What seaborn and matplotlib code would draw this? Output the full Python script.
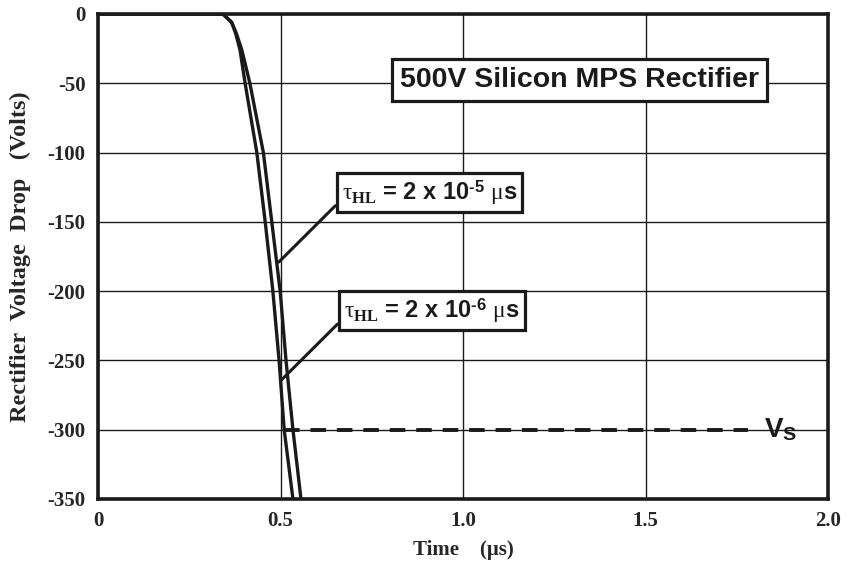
import numpy as np
import pandas as pd
import matplotlib
matplotlib.use("Agg")
import matplotlib.pyplot as plt
import seaborn as sns

# Reverse-recovery voltage transients (time in microseconds, voltage in volts)
t_fast = [0.0, 0.342, 0.366, 0.377, 0.389, 0.403, 0.435, 0.458, 0.479, 0.496, 0.510, 0.534]
v_fast = [0, 0, -6, -14, -26, -50, -100, -150, -200, -250, -300, -350]
t_slow = [0.0, 0.342, 0.366, 0.379, 0.394, 0.416, 0.453, 0.476, 0.499, 0.515, 0.534, 0.556]
v_slow = [0, 0, -6, -14, -26, -50, -100, -150, -200, -250, -300, -350]

# Supply voltage level
vs_t = [0.51, 1.78]
vs_v = [-300, -300]

x_ticks = [0, 0.5, 1.0, 1.5, 2.0]
x_tick_labels = ["0", "0.5", "1.0", "1.5", "2.0"]
y_ticks = [0, -50, -100, -150, -200, -250, -300, -350]
y_tick_labels = ["0", "-50", "-100", "-150", "-200", "-250", "-300", "-350"]

HYPHEN = "\u2010"
label_fast = r"$\tau_{\mathbf{HL}}$ = 2 x 10$^{\mathsf{" + HYPHEN + r"6}}$ $\mu$s"
label_slow = r"$\tau_{\mathbf{HL}}$ = 2 x 10$^{\mathsf{" + HYPHEN + r"5}}$ $\mu$s"
title_text = "500V Silicon MPS Rectifier"

sns.set_style("white")
plt.rcParams["font.family"] = ["Liberation Sans", "DejaVu Sans"]
plt.rcParams["mathtext.fontset"] = "custom"
plt.rcParams["mathtext.rm"] = "Liberation Serif"
plt.rcParams["mathtext.it"] = "Liberation Serif"
plt.rcParams["mathtext.bf"] = "Liberation Serif:bold"
plt.rcParams["mathtext.sf"] = "Liberation Sans:bold"

df = pd.concat([
    pd.DataFrame({"t": t_fast, "v": v_fast, "tau": "fast"}),
    pd.DataFrame({"t": t_slow, "v": v_slow, "tau": "slow"}),
])

fig = plt.figure(figsize=(8.51, 5.75), dpi=100)
ax = fig.add_axes([0.1152, 0.1322, 0.8578, 0.8435])

ax.grid(True, color="#1a1a1a", linewidth=1.0)
ax.set_axisbelow(True)

sns.lineplot(data=df, x="t", y="v", units="tau", estimator=None, sort=False,
             color="#1a1a1a", linewidth=2.4, ax=ax, legend=False)

ax.plot(vs_t, vs_v, color="#1a1a1a", linewidth=2.8, dashes=(4.0, 2.8))

ax.set_xlim(0, 2.0)
ax.set_ylim(-350, 0)
ax.set_xticks(x_ticks)
ax.set_xticklabels(x_tick_labels)
ax.set_yticks(y_ticks)
ax.set_yticklabels(y_tick_labels)
for lab in ax.get_xticklabels() + ax.get_yticklabels():
    lab.set_fontfamily("Liberation Serif")
    lab.set_fontweight("bold")
    lab.set_fontsize(15)
ax.tick_params(axis="both", direction="out", length=3, width=1, color="#1a1a1a")
ax.tick_params(axis="y", pad=6)
ax.tick_params(axis="x", pad=6)

for s in ax.spines.values():
    s.set_visible(True)
    s.set_color("#1a1a1a")
    s.set_linewidth(2.6)

ax.set_xlabel("Time    (\u03bcs)", fontfamily="Liberation Serif", fontweight="bold",
              fontsize=15, labelpad=6)
ax.set_ylabel("Rectifier  Voltage  Drop   (Volts)", fontfamily="Liberation Serif",
              fontweight="bold", fontsize=17.5, labelpad=12)

box = dict(boxstyle="square,pad=0.22", facecolor="white", edgecolor="#1a1a1a", linewidth=2.3)

ax.text(0.659, 0.864, title_text, transform=ax.transAxes, ha="center", va="center",
        fontsize=20.5, fontweight="bold", color="#1a1a1a",
        bbox=dict(boxstyle="square,pad=0.28", facecolor="white", edgecolor="#1a1a1a",
                  linewidth=2.3), zorder=5)

# Pointer targets on each curve
v_slow_pt = -179
t_slow_pt = np.interp(-v_slow_pt, -np.array(v_slow), t_slow) + 0.006
v_fast_pt = -264
t_fast_pt = np.interp(-v_fast_pt, -np.array(v_fast), t_fast) + 0.003

arrow = dict(arrowstyle="-", color="#1a1a1a", linewidth=2.2, shrinkA=0, shrinkB=0,
             relpos=(0.0, 0.26))
ax.annotate(label_slow, xy=(t_slow_pt, v_slow_pt), xytext=(0.454, 0.632),
            textcoords="axes fraction", ha="center", va="center", fontsize=17,
            fontweight="bold", color="#1a1a1a", bbox=box, arrowprops=arrow, zorder=5)
ax.annotate(label_fast, xy=(t_fast_pt, v_fast_pt), xytext=(0.457, 0.388),
            textcoords="axes fraction", ha="center", va="center", fontsize=17,
            fontweight="bold", color="#1a1a1a", bbox=box, arrowprops=arrow, zorder=5)

ax.text(1.825, -300, r"$\mathsf{V}_{\mathsf{S}}$", ha="left", va="center",
        fontsize=20, color="#1a1a1a")

fig.savefig("out.png", dpi=100)
